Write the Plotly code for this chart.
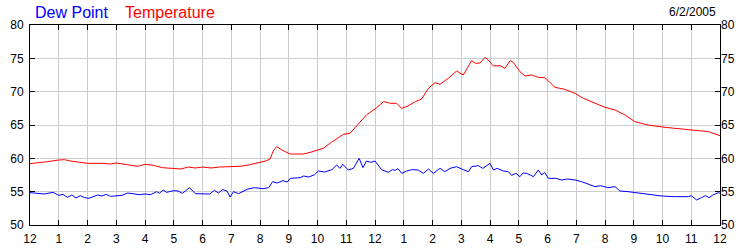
import plotly.graph_objects as go

# Temperature readings (hour of day, deg F)
temp_hours = [0.0, 0.3, 0.6, 1.0, 1.2, 1.4, 1.6, 1.8, 2.0, 2.5, 2.8, 3.0, 3.2, 3.5, 3.75, 4.0, 4.3, 4.6, 4.8,
              5.0, 5.25, 5.5, 5.75, 6.0, 6.3, 6.6, 7.0, 7.3, 7.6, 8.0, 8.2, 8.35, 8.47, 8.58, 8.8, 9.05,
              9.5, 9.75, 10.0, 10.2, 10.43, 10.67, 10.9, 11.13, 11.36, 11.7, 12.0, 12.3, 12.55, 12.75,
              12.93, 13.15, 13.4, 13.62, 13.86, 14.09, 14.26, 14.55, 14.84, 15.07, 15.36, 15.5, 15.65,
              15.83, 15.94, 16.12, 16.35, 16.52, 16.7, 16.81, 17.04, 17.22, 17.45, 17.68, 17.91, 18.26,
              18.6, 18.96, 19.25, 19.65, 20.0, 20.35, 20.7, 21.04, 21.5, 22.09, 22.78, 23.25, 23.6, 24.0]
temp_values = [59.2, 59.3, 59.5, 59.75, 59.8, 59.6, 59.5, 59.3, 59.25, 59.25, 59.15, 59.3, 59.15, 59.0, 58.8,
               59.1, 58.95, 58.6, 58.55, 58.4, 58.4, 58.7, 58.55, 58.7, 58.55, 58.7, 58.7, 58.8, 59.0,
               59.35, 59.6, 59.9, 61.2, 61.75, 61.15, 60.65, 60.65, 60.9, 61.25, 61.5, 62.25, 62.9, 63.6,
               63.75, 64.85, 66.5, 67.4, 68.5, 68.25, 68.25, 67.5, 67.85, 68.5, 68.9, 70.5, 71.35, 71.1,
               72.0, 73.1, 72.5, 74.65, 74.25, 74.3, 75.15, 74.75, 73.85, 73.9, 73.5, 74.65, 74.4, 73.0,
               72.35, 72.5, 72.15, 72.1, 70.65, 70.35, 69.75, 69.0, 68.25, 67.65, 67.25, 66.5, 65.5, 65.0,
               64.65, 64.4, 64.2, 64.0, 63.4]

# Dew point readings (hour of day, deg F)
dew_hours = [0.0, 0.25, 0.5, 0.8, 1.0, 1.15, 1.3, 1.45, 1.6, 1.75, 1.9, 2.05, 2.2, 2.35, 2.5, 2.65, 2.8, 3.0,
             3.2, 3.4, 3.6, 3.8, 4.0, 4.2, 4.4, 4.5, 4.63, 4.75, 5.0, 5.15, 5.3, 5.55, 5.75, 6.0, 6.25, 6.42,
             6.55, 6.7, 6.85, 6.96, 7.08, 7.25, 7.4, 7.58, 7.8, 8.1, 8.3, 8.44, 8.6, 8.8, 8.95, 9.05, 9.4,
             9.52, 9.7, 9.9, 10.03, 10.25, 10.5, 10.67, 10.78, 10.88, 11.07, 11.25, 11.3, 11.45, 11.58, 11.7,
             11.85, 12.0, 12.23, 12.35, 12.46, 12.6, 12.7, 12.8, 12.93, 13.1, 13.28, 13.5, 13.68, 13.86,
             14.03, 14.26, 14.43, 14.61, 14.84, 15.07, 15.25, 15.36, 15.59, 15.75, 16.0, 16.12, 16.25,
             16.46, 16.64, 16.75, 16.9, 17.04, 17.15, 17.28, 17.4, 17.51, 17.68, 17.8, 17.9, 18.03, 18.3,
             18.49, 18.7, 18.96, 19.19, 19.42, 19.65, 19.85, 20.1, 20.35, 20.52, 20.8, 21.04, 21.3, 21.62,
             21.97, 22.43, 22.9, 23.0, 23.19, 23.35, 23.5, 23.62, 23.75, 23.94, 24.0]
dew_values = [54.85, 54.7, 54.65, 54.9, 54.45, 54.6, 54.15, 54.5, 54.05, 54.4, 54.1, 54.0, 54.2, 54.5, 54.35,
              54.6, 54.3, 54.35, 54.45, 54.8, 54.7, 54.55, 54.65, 54.55, 55.0, 54.75, 55.25, 54.9, 55.15,
              55.1, 54.75, 55.6, 54.7, 54.7, 54.65, 55.2, 54.8, 55.3, 55.1, 54.2, 55.0, 54.7, 55.0, 55.4,
              55.6, 55.45, 55.6, 56.5, 56.3, 56.65, 56.45, 57.0, 57.1, 57.35, 57.2, 57.55, 58.1, 57.95,
              58.3, 59.0, 58.5, 59.1, 58.25, 58.5, 58.9, 60.0, 58.6, 59.6, 59.4, 59.6, 58.3, 58.15, 57.9,
              58.3, 58.2, 58.45, 57.75, 58.1, 58.3, 58.25, 57.75, 58.4, 57.75, 58.5, 58.0, 58.5, 58.75,
              58.3, 58.0, 58.75, 58.9, 58.5, 59.25, 58.25, 58.5, 58.1, 58.0, 57.45, 57.75, 57.25, 57.8,
              57.75, 57.5, 57.25, 58.25, 57.5, 57.9, 57.0, 57.0, 56.75, 56.9, 56.75, 56.5, 56.1, 55.75,
              55.9, 55.6, 55.75, 55.1, 55.0, 54.85, 54.75, 54.5, 54.35, 54.25, 54.25, 54.4, 53.75, 54.1,
              54.4, 54.1, 54.5, 54.85, 54.75]

x_tickvals = list(range(25))
x_ticktext = ["12", "1", "2", "3", "4", "5", "6", "7", "8", "9", "10", "11",
              "12", "1", "2", "3", "4", "5", "6", "7", "8", "9", "10", "11", "12"]
y_tickvals = [50, 55, 60, 65, 70, 75, 80]

FONT = "Liberation Sans, Arial, sans-serif"

fig = go.Figure()
fig.add_trace(go.Scatter(x=temp_hours, y=temp_values, mode="lines",
                         line=dict(color="#ff0000", width=1), name="Temperature", hoverinfo="skip"))
fig.add_trace(go.Scatter(x=dew_hours, y=dew_values, mode="lines",
                         line=dict(color="#0000ff", width=1), name="Dew Point", hoverinfo="skip"))
# invisible trace to drive the right-hand axis labels
fig.add_trace(go.Scatter(x=[0, 24], y=[50, 80], yaxis="y2", mode="markers",
                         marker=dict(opacity=0), showlegend=False, hoverinfo="skip"))

fig.update_layout(
    width=750, height=250,
    margin=dict(l=30, r=30, t=25, b=25),
    paper_bgcolor="white", plot_bgcolor="white",
    showlegend=False,
    font=dict(family=FONT, size=12, color="black"),
    xaxis=dict(range=[0, 24], tickvals=x_tickvals, ticktext=x_ticktext,
               showgrid=True, gridcolor="#cccccc", gridwidth=1,
               showline=True, linecolor="black", linewidth=1, mirror="ticks",
               ticks="inside", ticklen=5, tickcolor="black", zeroline=False,
               ticklabelstandoff=3, automargin=False,
               tickfont=dict(size=12, color="black")),
    yaxis=dict(range=[50, 80], tickvals=y_tickvals,
               showgrid=True, gridcolor="#cccccc", gridwidth=1,
               showline=True, linecolor="black", linewidth=1, mirror="ticks",
               ticks="inside", ticklen=5, tickcolor="black", zeroline=False,
               ticklabelstandoff=3, automargin=False,
               tickfont=dict(size=12, color="black")),
    yaxis2=dict(range=[50, 80], tickvals=y_tickvals, overlaying="y", side="right",
                showgrid=False, showline=False, ticks="", zeroline=False, automargin=False,
                tickfont=dict(size=12, color="black")),
    annotations=[
        dict(text="Dew Point", xref="paper", yref="paper", x=(33 - 30) / 690, y=(225 - 12) / 200,
             xanchor="left", yanchor="middle", showarrow=False,
             font=dict(family=FONT, size=16, color="#0000ff")),
        dict(text="Temperature", xref="paper", yref="paper", x=(123 - 30) / 690, y=(225 - 12) / 200,
             xanchor="left", yanchor="middle", showarrow=False,
             font=dict(family=FONT, size=16, color="#ff0000")),
        dict(text="6/2/2005", xref="paper", yref="paper", x=(718 - 30) / 690, y=(225 - 12) / 200,
             xanchor="right", yanchor="middle", showarrow=False,
             font=dict(family=FONT, size=12, color="black")),
    ],
)

fig.write_html("out.html")
